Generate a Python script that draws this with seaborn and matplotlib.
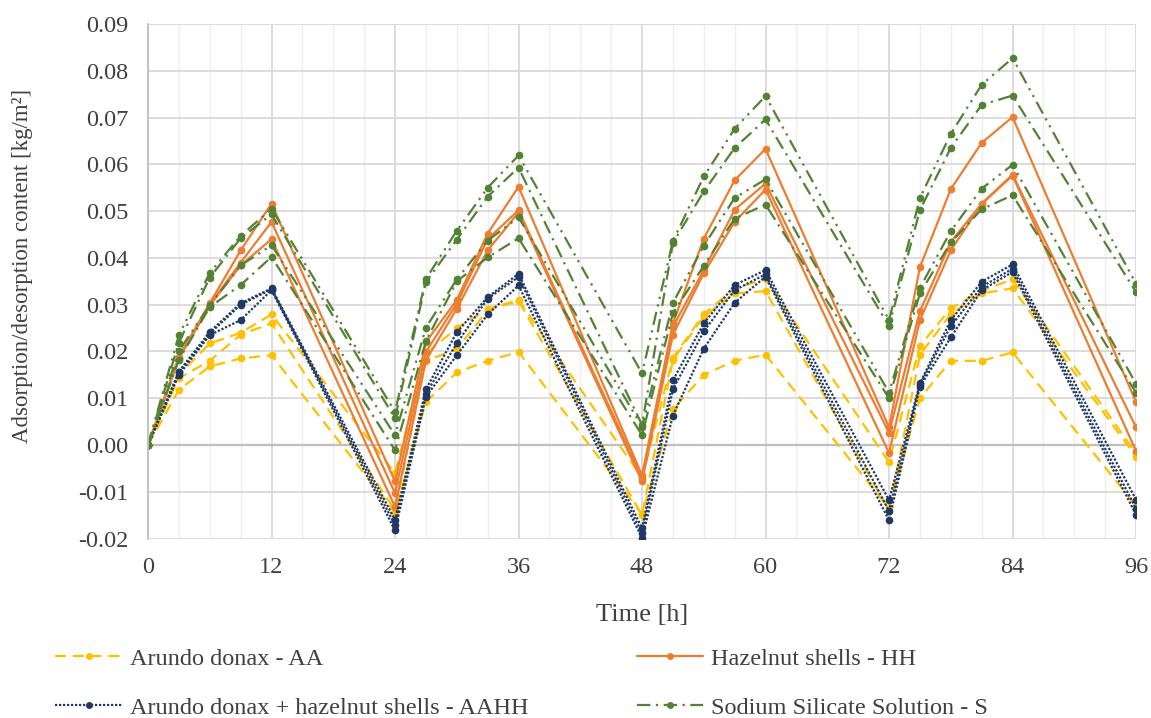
import matplotlib
matplotlib.use('Agg')
import matplotlib.pyplot as plt
from matplotlib.lines import Line2D
import numpy as np
import pandas as pd
import seaborn as sns

# sampling times [h]
time_h = [0, 3, 6, 9, 12, 24, 27, 30, 33, 36, 48, 51, 54, 57, 60, 72, 75, 78, 81, 84, 96]

# Arundo donax - AA (three samples)
aa_1 = [0, 0.0150, 0.0217, 0.0240, 0.0279, -0.0060, 0.0195, 0.0250, 0.0291, 0.0310, -0.0070,
        0.0186, 0.0280, 0.0335, 0.0355, -0.0037, 0.0212, 0.0292, 0.0330, 0.0354, -0.0018]
aa_2 = [0, 0.0143, 0.0180, 0.0236, 0.0260, -0.0140, 0.0180, 0.0205, 0.0288, 0.0308, -0.0150,
        0.0182, 0.0275, 0.0324, 0.0329, -0.0140, 0.0193, 0.0280, 0.0324, 0.0335, -0.0025]
aa_3 = [0, 0.0118, 0.0168, 0.0185, 0.0192, -0.0145, 0.0092, 0.0155, 0.0180, 0.0199, -0.0148,
        0.0076, 0.0150, 0.0180, 0.0193, -0.0135, 0.0100, 0.0180, 0.0180, 0.0198, -0.0130]

# Hazelnut shells - HH
hh_1 = [0, 0.0189, 0.0303, 0.0416, 0.0516, -0.0078, 0.0220, 0.0310, 0.0452, 0.0552, -0.0065,
        0.0260, 0.0441, 0.0566, 0.0633, 0.0038, 0.0380, 0.0547, 0.0646, 0.0701, 0.0092]
hh_2 = [0, 0.0187, 0.0300, 0.0390, 0.0477, -0.0103, 0.0199, 0.0302, 0.0440, 0.0502, -0.0070,
        0.0253, 0.0374, 0.0503, 0.0559, 0.0026, 0.0286, 0.0434, 0.0516, 0.0578, 0.0038]
hh_3 = [0, 0.0185, 0.0298, 0.0384, 0.0440, -0.0132, 0.0181, 0.0291, 0.0416, 0.0497, -0.0078,
        0.0236, 0.0367, 0.0477, 0.0546, -0.0017, 0.0267, 0.0416, 0.0515, 0.0576, -0.0013]

# Arundo donax + hazelnut shells - AAHH
aahh_1 = [0, 0.0157, 0.0242, 0.0303, 0.0335, -0.0160, 0.0119, 0.0241, 0.0316, 0.0366, -0.0178,
          0.0138, 0.0260, 0.0342, 0.0374, -0.0118, 0.0132, 0.0267, 0.0349, 0.0386, -0.0117]
aahh_2 = [0, 0.0155, 0.0238, 0.0300, 0.0333, -0.0171, 0.0110, 0.0217, 0.0313, 0.0359, -0.0189,
          0.0119, 0.0243, 0.0331, 0.0365, -0.0141, 0.0129, 0.0254, 0.0338, 0.0377, -0.0136]
aahh_3 = [0, 0.0150, 0.0235, 0.0267, 0.0331, -0.0182, 0.0103, 0.0192, 0.0279, 0.0341, -0.0199,
          0.0063, 0.0206, 0.0304, 0.0360, -0.0161, 0.0125, 0.0230, 0.0331, 0.0370, -0.0149]

# Sodium Silicate Solution - S (four samples)
s_1 = [0, 0.0235, 0.0368, 0.0447, 0.0505, 0.0071, 0.0355, 0.0458, 0.0550, 0.0619, 0.0153,
       0.0436, 0.0574, 0.0676, 0.0746, 0.0267, 0.0528, 0.0665, 0.0770, 0.0827, 0.0345]
s_2 = [0, 0.0219, 0.0358, 0.0442, 0.0493, 0.0057, 0.0348, 0.0439, 0.0531, 0.0593, 0.0043,
       0.0432, 0.0542, 0.0635, 0.0696, 0.0254, 0.0502, 0.0635, 0.0727, 0.0747, 0.0327]
s_3 = [0, 0.0201, 0.0299, 0.0384, 0.0427, 0.0021, 0.0251, 0.0354, 0.0437, 0.0487, 0.0039,
       0.0304, 0.0426, 0.0528, 0.0568, 0.0112, 0.0336, 0.0457, 0.0548, 0.0599, 0.0131]
s_4 = [0, 0.0182, 0.0295, 0.0342, 0.0402, -0.0011, 0.0222, 0.0350, 0.0401, 0.0442, 0.0021,
       0.0282, 0.0383, 0.0484, 0.0514, 0.0100, 0.0324, 0.0433, 0.0504, 0.0534, 0.0112]

labels = ['Arundo donax - AA', 'Hazelnut shells - HH',
          'Arundo donax + hazelnut shells - AAHH', 'Sodium Silicate Solution - S']
series = {
    labels[0]: [aa_1, aa_2, aa_3],
    labels[1]: [hh_1, hh_2, hh_3],
    labels[2]: [aahh_1, aahh_2, aahh_3],
    labels[3]: [s_1, s_2, s_3, s_4],
}

colors = {labels[0]: '#FFC000', labels[1]: '#ED7D31', labels[2]: '#1F3864', labels[3]: '#548235'}
# line style key per sample (green samples alternate dash-dot / dash-dot-dot)
dashes = {'AA': (5, 3), 'HH': '', 'AAHH': (1, 0.8), 'S_a': (6, 2.5, 1, 2.5, 1, 2.5), 'S_b': (6, 2.5, 1, 2.5)}
style_key = {labels[0]: ['AA'] * 3, labels[1]: ['HH'] * 3, labels[2]: ['AAHH'] * 3,
             labels[3]: ['S_a', 'S_b', 'S_a', 'S_b']}

rows = []
for grp, reps in series.items():
    for i, vals in enumerate(reps):
        for t, v in zip(time_h, vals):
            rows.append({'time': t, 'value': v, 'group': grp,
                         'sample': f'{grp} {i}', 'ls': style_key[grp][i]})
df = pd.DataFrame(rows)

sns.set_style('white')
plt.rcParams['font.family'] = ['Liberation Serif', 'DejaVu Serif']
txt_col = '#404040'

fig = plt.figure(figsize=(11.51, 7.18), dpi=100)
ax = fig.add_axes([0.1286, 0.2499, 0.8584, 0.7167])

sns.lineplot(data=df, x='time', y='value', hue='group', style='ls', units='sample',
             estimator=None, palette=colors, dashes=dashes,
             markers={k: 'o' for k in dashes}, markersize=5.5, markeredgewidth=0,
             linewidth=1.6, legend=False, sort=False, ax=ax)

ax.set_xlim(0, 96)
ax.set_ylim(-0.02, 0.09)
ax.set_xticks(np.arange(0, 97, 12))
ax.set_xticks(np.arange(0, 97, 3), minor=True)
yt = np.round(np.arange(-0.02, 0.0901, 0.01), 2)
ax.set_yticks(yt)
ax.set_yticklabels([f'{v:.2f}' for v in yt])
ax.grid(True, which='major', axis='both', color='#d9d9d9', linewidth=1.3)
ax.grid(True, which='minor', axis='x', color='#eeeeee', linewidth=1.0)
ax.axhline(0, color='#bfbfbf', linewidth=1.6, zorder=1)
ax.set_axisbelow(True)
for side in ['top', 'right', 'bottom']:
    ax.spines[side].set_visible(False)
ax.spines['left'].set_color('#bfbfbf')
ax.spines['left'].set_linewidth(1.3)
ax.tick_params(which='both', length=0, labelsize=17.5, colors=txt_col)
ax.tick_params(axis='y', pad=14)
ax.tick_params(axis='x', pad=13)
ax.set_xlabel('Time [h]', fontsize=19, color=txt_col)
ax.set_ylabel('Adsorption/desorption content [kg/m²]', fontsize=16.5, color=txt_col)
ax.xaxis.set_label_coords(0.5, -0.127)
ax.yaxis.set_label_coords(-0.116, 0.53)

handles = {}
for grp in labels:
    d = dashes[style_key[grp][1]]
    h = Line2D([0], [0], color=colors[grp], linewidth=1.6, marker='o',
               markersize=5, markeredgewidth=0)
    if d:
        h.set_dashes(d)
    handles[grp] = h

leg_kw = dict(loc='upper left', frameon=False, fontsize=17.5, handlelength=2.75,
              handletextpad=0.33, labelspacing=1.12, labelcolor=txt_col,
              borderaxespad=0, borderpad=0)
fig.legend([handles[labels[0]], handles[labels[2]]], [labels[0], labels[2]],
           bbox_to_anchor=(0.048, 0.098), **leg_kw)
fig.legend([handles[labels[1]], handles[labels[3]]], [labels[1], labels[3]],
           bbox_to_anchor=(0.553, 0.098), **leg_kw)

fig.savefig('out.png', dpi=100)
